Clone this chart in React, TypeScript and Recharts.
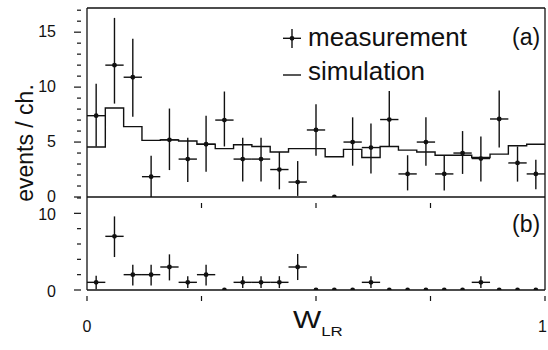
import React from "react";
import {
  ComposedChart,
  Scatter,
  Line,
  XAxis,
  YAxis,
  ErrorBar,
  ReferenceLine,
  Legend,
} from "recharts";

// bin centres (25 channels of width 0.04 in W_LR)
const binCenters = [
  0.02, 0.06, 0.1, 0.14, 0.18, 0.22, 0.26, 0.3, 0.34, 0.38, 0.42, 0.46, 0.5,
  0.54, 0.58, 0.62, 0.66, 0.7, 0.74, 0.78, 0.82, 0.86, 0.9, 0.94, 0.98,
];
const binHalfWidth = 0.02;

// panel (a): measurement with error range, simulation histogram
const measA = [7.4, 12.0, 10.9, 1.85, 5.2, 3.45, 4.8, 7.0, 3.45, 3.45, 2.5, 1.36, 6.1, 0, 5.0, 4.5, 7.05, 2.1, 5.0, 2.1, 4.0, 3.5, 7.1, 3.1, 2.1];
const lowA = [4.6, 8.5, 7.3, 0, 2.45, 1.36, 2.3, 4.6, 1.4, 1.4, 0.7, 0.1, 3.75, 0, 2.85, 2.15, 4.6, 0.6, 2.85, 0.6, 2.1, 1.4, 4.5, 1.4, 0.7];
const highA = [10.3, 16.3, 14.4, 3.75, 8.05, 5.4, 7.4, 9.6, 5.4, 5.4, 4.1, 3.27, 8.45, 0, 7.25, 6.7, 9.65, 3.8, 7.25, 3.8, 6.0, 5.5, 9.7, 4.6, 3.4];
const simA = [4.55, 8.1, 6.4, 5.15, 5.2, 5.1, 4.8, 4.4, 4.75, 4.6, 4.1, 4.4, 4.4, 3.66, 4.33, 3.6, 4.6, 4.27, 4.1, 3.8, 3.8, 3.6, 3.9, 4.67, 4.8];

// panel (b): measurement only
const measB = [1, 7, 2, 2, 3, 1, 2, 0, 1, 1, 1, 3, 0, 0, 0, 1, 0, 0, 0, 0, 0, 1, 0, 0, 0];
const lowB = [0.1, 4.3, 0.6, 0.6, 1.25, 0.25, 0.6, 0, 0.25, 0.25, 0.25, 1.3, 0, 0, 0, 0.25, 0, 0, 0, 0, 0, 0.25, 0, 0, 0];
const highB = [1.85, 9.6, 3.3, 3.3, 4.65, 1.8, 3.3, 0, 1.8, 1.8, 1.8, 4.7, 0, 0, 0, 1.8, 0, 0, 0, 0, 0, 1.8, 0, 0, 0];

const yTicksA = [0, 1, 2, 3, 4, 5, 6, 7, 8, 9, 10, 11, 12, 13, 14, 15, 16, 17];
const yLabelsA = [0, 5, 10, 15];
const yTicksB = [0, 2, 4, 6, 8, 10, 12];
const yLabelsB = [0, 10];
const xTicks = [0, 0.25, 0.5, 0.75, 1];
const xLabels = [0, 1];
const legendLabels = ["measurement", "simulation"];

const FONT = "'Liberation Sans', Arial, Helvetica, sans-serif";
const INK = "#111";

const toRows = (meas: number[], low: number[], high: number[]) =>
  binCenters.map((x, i) => ({
    x,
    y: meas[i],
    ex: meas[i] > 0 ? binHalfWidth : 0,
    ey: [meas[i] - low[i], high[i] - meas[i]],
  }));

const rowsA = toRows(measA, lowA, highA);
const rowsB = toRows(measB, lowB, highB);
const stepA = [
  ...binCenters.map((c, i) => ({ x: c - binHalfWidth, sim: simA[i] })),
  { x: 1, sim: simA[simA.length - 1] },
];

function makeYTick(labels: number[], dy: number) {
  return (props: any) => {
    const { x, y, payload } = props;
    const major = labels.includes(payload.value);
    return (
      <g>
        <line x1={x - (major ? 7 : 4)} x2={x} y1={y} y2={y} stroke={INK} strokeWidth={1.2} />
        {major && (
          <text x={x - 25} y={y + dy} textAnchor="end" fontSize={16} fontFamily={FONT} fill={INK}>
            {payload.value}
          </text>
        )}
      </g>
    );
  };
}

function makeXTick(labels: number[]) {
  return (props: any) => {
    const { x, y, payload } = props;
    const last = payload.value === 1;
    return (
      <g>
        <line x1={x} x2={x} y1={y} y2={y + 5} stroke={INK} strokeWidth={1.2} />
        {labels.includes(payload.value) && (
          <text
            x={last ? x + 2 : x}
            y={y + 36}
            textAnchor={last ? "end" : "middle"}
            fontSize={16}
            fontFamily={FONT}
            fill={INK}
          >
            {payload.value}
          </text>
        )}
      </g>
    );
  };
}

const dot = (p: any) => <circle cx={p.cx} cy={p.cy} r={2.4} fill={INK} />;

function LegendBox() {
  return (
    <svg width={230} height={70} style={{ display: "block" }}>
      <line x1={12} x2={12} y1={9} y2={28} stroke={INK} strokeWidth={1.4} />
      <line x1={3} x2={21} y1={18.3} y2={18.3} stroke={INK} strokeWidth={1.4} />
      <circle cx={12} cy={18.3} r={2.4} fill={INK} />
      <line x1={3} x2={21} y1={55} y2={55} stroke={INK} strokeWidth={1.4} />
      <text x={28} y={26} fontSize={26} fontFamily={FONT} fill={INK}>{legendLabels[0]}</text>
      <text x={28} y={60} fontSize={26} fontFamily={FONT} fill={INK}>{legendLabels[1]}</text>
    </svg>
  );
}

export default function App() {
  return (
    <div style={{ position: "absolute", left: 0, top: 0, width: 548, height: 350, background: "#fff", fontFamily: FONT }}>
      <div style={{ position: "absolute", left: 0, top: 0 }}>
        <ComposedChart width={548} height={215} margin={{ top: 8, right: 3, bottom: 15, left: 0 }}>
          <XAxis
            type="number"
            dataKey="x"
            domain={[0, 1]}
            ticks={[0.25, 0.5, 0.75]}
            height={3}
            tickLine={false}
            tickMargin={0}
            tick={makeXTick([])}
            axisLine={{ stroke: INK, strokeWidth: 1.3 }}
            interval={0}
          />
          <YAxis
            type="number"
            domain={[0, 17.2]}
            ticks={yTicksA}
            width={87}
            tickLine={false}
            tickMargin={0}
            tick={makeYTick(yLabelsA, 5)}
            axisLine={{ stroke: INK, strokeWidth: 1.3 }}
            interval={0}
            allowDataOverflow
          />
          <ReferenceLine y={17.2} stroke={INK} strokeWidth={1.3} />
          <ReferenceLine x={1} stroke={INK} strokeWidth={1.3} />
          <Line
            data={stepA}
            dataKey="sim"
            name="simulation"
            type="stepAfter"
            stroke={INK}
            strokeWidth={1.4}
            dot={false}
            isAnimationActive={false}
          />
          <Scatter data={rowsA} dataKey="y" name="measurement" shape={dot} isAnimationActive={false}>
            <ErrorBar dataKey="ey" direction="y" width={0} stroke={INK} strokeWidth={1.4} />
            <ErrorBar dataKey="ex" direction="x" width={0} stroke={INK} strokeWidth={1.4} />
          </Scatter>
          <Legend
            layout="vertical"
            align="center"
            verticalAlign="middle"
            wrapperStyle={{ left: 280, top: 20, width: 230 }}
            content={() => <LegendBox />}
          />
        </ComposedChart>
      </div>
      <div style={{ position: "absolute", left: 0, top: 190 }}>
        <ComposedChart width={548} height={160} margin={{ top: 7, right: 3, bottom: 0, left: 0 }}>
          <XAxis
            type="number"
            dataKey="x"
            domain={[0, 1]}
            ticks={xTicks}
            height={60}
            tickLine={false}
            tickMargin={0}
            tick={makeXTick(xLabels)}
            axisLine={{ stroke: INK, strokeWidth: 1.3 }}
            interval={0}
            label={{
              content: () => (
                <text transform="translate(293,138) scale(1.3,1)" fontSize={23} fontFamily={FONT} fill={INK}>
                  W<tspan dy={8} fontSize={13}>LR</tspan>
                </text>
              ),
            }}
          />
          <YAxis
            type="number"
            domain={[0, 12.13]}
            ticks={yTicksB}
            width={87}
            tickLine={false}
            tickMargin={0}
            tick={makeYTick(yLabelsB, 7)}
            axisLine={{ stroke: INK, strokeWidth: 1.3 }}
            interval={0}
            allowDataOverflow
          />
          <ReferenceLine x={1} stroke={INK} strokeWidth={1.3} />
          <Scatter data={rowsB} dataKey="y" name="measurement" shape={dot} isAnimationActive={false}>
            <ErrorBar dataKey="ey" direction="y" width={0} stroke={INK} strokeWidth={1.4} />
            <ErrorBar dataKey="ex" direction="x" width={0} stroke={INK} strokeWidth={1.4} />
          </Scatter>
        </ComposedChart>
      </div>
      <svg width={548} height={350} style={{ position: "absolute", left: 0, top: 0, pointerEvents: "none" }}>
        <text x={512} y={45} fontSize={23} fontFamily={FONT} fill={INK}>(a)</text>
        <text x={512} y={232} fontSize={23} fontFamily={FONT} fill={INK}>(b)</text>
        <text transform="translate(33,143) rotate(-90)" textAnchor="middle" fontSize={23} fontFamily={FONT} fill={INK}>
          events / ch.
        </text>
      </svg>
    </div>
  );
}
